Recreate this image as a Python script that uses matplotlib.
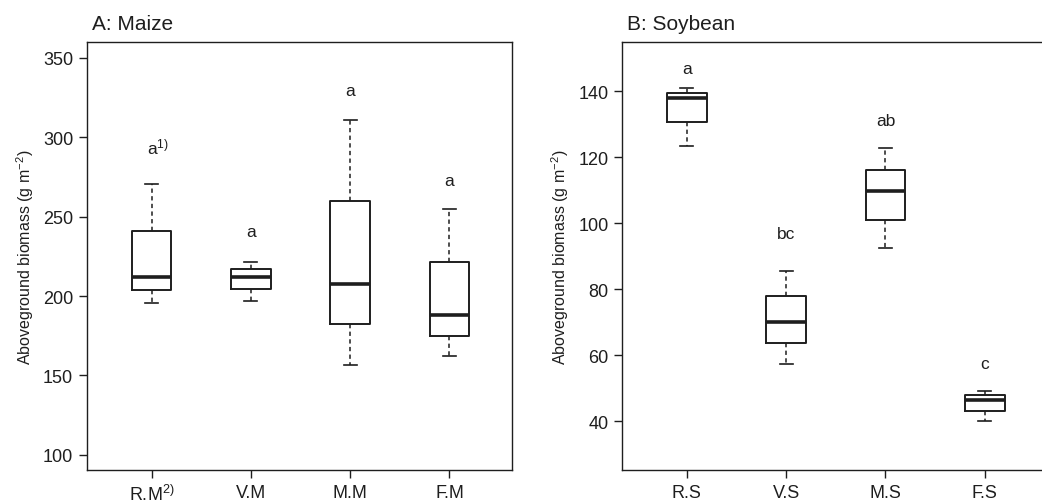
import matplotlib
matplotlib.use("Agg")
import matplotlib.pyplot as plt

plt.rcParams['font.family'] = ['Liberation Sans', 'DejaVu Sans']
plt.rcParams['mathtext.default'] = 'regular'

# maize
maize_labels = ['R.M$^{2)}$', 'V.M', 'M.M', 'F.M']
maize_whislo = [195.4, 196.6, 156.7, 162.0]
maize_q1 = [203.8, 204.6, 182.6, 174.8]
maize_med = [211.8, 212.2, 207.8, 188.0]
maize_q3 = [241.2, 217.2, 259.7, 221.6]
maize_whishi = [270.6, 221.6, 310.9, 254.8]
maize_letters = ['a$^{1)}$', 'a', 'a', 'a']
maize_letter_y = [289.9, 237.6, 326.3, 270.0]

# soybean
soy_labels = ['R.S', 'V.S', 'M.S', 'F.S']
soy_whislo = [123.3, 57.2, 92.4, 40.0]
soy_q1 = [130.7, 63.8, 101.1, 43.1]
soy_med = [138.0, 70.0, 109.7, 46.3]
soy_q3 = [139.5, 77.9, 116.1, 47.8]
soy_whishi = [141.0, 85.6, 122.7, 49.2]
soy_letters = ['a', 'bc', 'ab', 'c']
soy_letter_y = [145.7, 95.6, 129.8, 56.2]

ink = '#1e1e1e'


def draw_panel(ax, labels, lo, q1, med, q3, hi, letters, ly, title, ylim, yticks):
    stats = []
    for i in range(len(labels)):
        stats.append({'whislo': lo[i], 'q1': q1[i], 'med': med[i],
                      'q3': q3[i], 'whishi': hi[i], 'fliers': []})
    pos = list(range(1, len(labels) + 1))
    ax.bxp(stats, positions=pos, widths=0.4, capwidths=0.13, showfliers=False,
           boxprops=dict(color=ink, linewidth=1.4),
           medianprops=dict(color=ink, linewidth=2.6),
           whiskerprops=dict(color=ink, linewidth=1.1, linestyle=(0, (2.8, 2.2))),
           capprops=dict(color=ink, linewidth=1.2))
    for p, t, y in zip(pos, letters, ly):
        if '$' in t:
            ax.annotate(t, (p, y), xytext=(-3.5, 0), textcoords='offset points',
                        ha='left', va='baseline', fontsize=12.5, color=ink)
        else:
            ax.text(p, y, t, ha='center', va='baseline', fontsize=12.5, color=ink)
    ax.set_xlim(0.35, 4.63)
    ax.set_ylim(*ylim)
    ax.set_yticks(yticks)
    ax.set_xticks(pos)
    ax.set_xticklabels(labels)
    ax.tick_params(axis='both', direction='out', length=6, width=1.0,
                   labelsize=13, colors=ink)
    ax.tick_params(axis='x', pad=4)
    ax.tick_params(axis='y', pad=4)
    for s in ax.spines.values():
        s.set_linewidth(1.0)
        s.set_color(ink)
    ax.set_ylabel('Aboveground biomass (g m$^{-2}$)', fontsize=11.5, color=ink,
                  labelpad=5)
    ax.text(0.012, 1.03, title, transform=ax.transAxes, fontsize=15,
            color=ink, ha='left', va='baseline')


fig = plt.figure(figsize=(10.42, 5.02), dpi=100)
ax1 = fig.add_axes([0.0835, 0.0618, 0.4079, 0.8526])
ax2 = fig.add_axes([0.5972, 0.0618, 0.4079, 0.8526])

draw_panel(ax1, maize_labels, maize_whislo, maize_q1, maize_med, maize_q3,
           maize_whishi, maize_letters, maize_letter_y, 'A: Maize',
           (90.5, 360), [100, 150, 200, 250, 300, 350])
draw_panel(ax2, soy_labels, soy_whislo, soy_q1, soy_med, soy_q3,
           soy_whishi, soy_letters, soy_letter_y, 'B: Soybean',
           (25.2, 155), [40, 60, 80, 100, 120, 140])

plt.savefig('out.png', dpi=100)
